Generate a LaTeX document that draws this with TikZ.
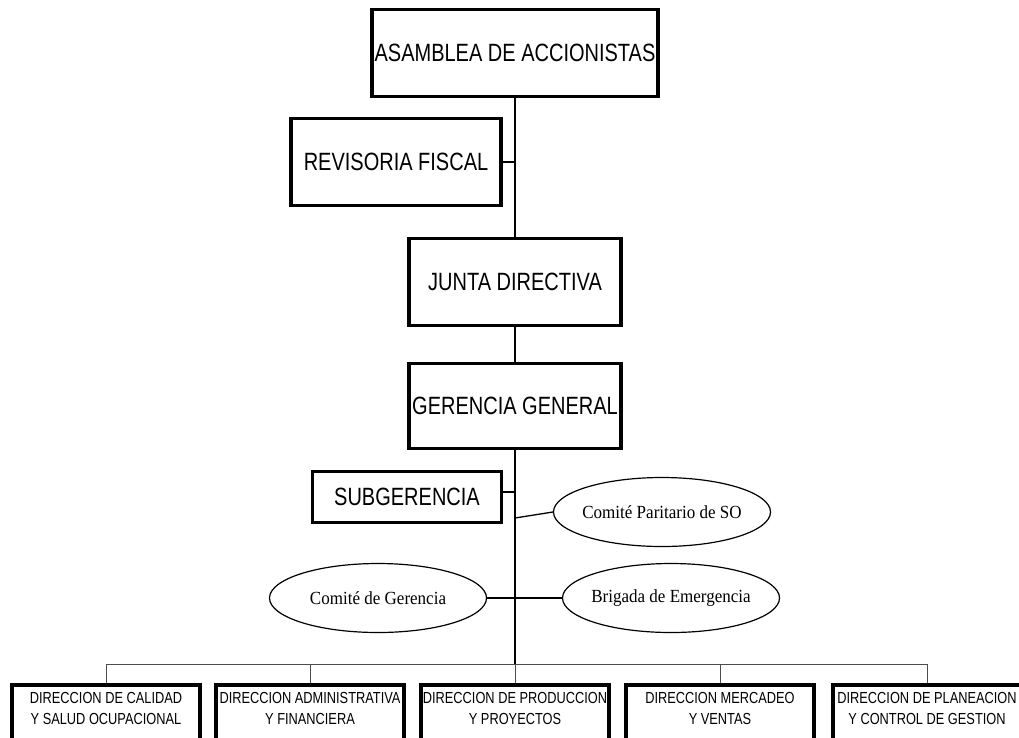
\documentclass[tikz,border=0pt]{standalone}
\usepackage{fontspec}
\setmainfont{Liberation Serif}
\newfontfamily\narrowsans[FakeStretch=0.8]{Liberation Sans}
\newfontfamily\narrowserif[FakeStretch=0.92]{Liberation Serif}
\newcommand{\ctext}[1]{\makebox[0pt]{#1}}
\usetikzlibrary{shapes.geometric}

\begin{document}
\begin{tikzpicture}[x=1pt,y=-1pt,
    orgbox/.style={draw,line width=3.5pt,inner sep=0pt,minimum width=#1,
      font=\narrowsans\fontsize{25}{28}\selectfont},
    dirbox/.style={draw,line width=3.5pt,inner sep=0pt,minimum width=188pt,
      minimum height=110pt,anchor=north},
    dirtext/.style={align=center,inner sep=0pt,
      font=\narrowsans\fontsize{16}{21}\selectfont},
    comite/.style={draw,ellipse,line width=1.2pt,inner sep=0pt,
      minimum width=217pt,minimum height=69pt,
      font=\narrowserif\fontsize{18.5}{20}\selectfont},
    link/.style={line width=1.3pt},
    bus/.style={line width=0.9pt,black!70}]
  \clip (0,0) rectangle (1019,737);

  \node[orgbox=286pt,minimum height=87pt] (asam) at (515,53) {ASAMBLEA DE ACCIONISTAS};
  \node[orgbox=210pt,minimum height=87pt] (rev) at (396,162) {REVISORIA FISCAL};
  \node[orgbox=212pt,minimum height=87pt] (junta) at (515,282) {JUNTA DIRECTIVA};
  \node[orgbox=212pt,minimum height=85pt] (ger) at (515,406) {GERENCIA GENERAL};
  \node[orgbox=189pt,minimum height=51pt] (sub) at (407,497) {SUBGERENCIA};

  \node[comite] (cpso) at (662,512) {\ctext{Comité Paritario de SO}};
  \node[comite] (cger) at (378,598) {\ctext{Comité de Gerencia}};
  \node[comite] (brig) at (671,598) {\ctext{Brigada de Emergencia}};

  % direcciones
  \node[dirbox] (dcal) at (106,683) {};
  \node[dirbox] (dadm) at (310,683) {};
  \node[dirbox] (dprod) at (515,683) {};
  \node[dirbox] (dmer) at (720,683) {};
  \node[dirbox] (dplan) at (927,683) {};
  \node[dirtext] (tcal) at (106,708) {DIRECCION DE CALIDAD\\Y SALUD OCUPACIONAL};
  \node[dirtext] (tadm) at (310,708) {DIRECCION ADMINISTRATIVA\\Y FINANCIERA};
  \node[dirtext] (tprod) at (515,708) {DIRECCION DE PRODUCCION\\Y PROYECTOS};
  \node[dirtext] (tmer) at (720,708) {DIRECCION MERCADEO\\Y VENTAS};
  \node[dirtext] (tplan) at (927,708) {DIRECCION DE PLANEACION\\Y CONTROL DE GESTION};

  \coordinate (bus) at (515,664);
  \coordinate (cpj) at (515,518);

  \draw[link] (asam.south) -- (junta.north);
  \draw[link] (junta.south) -- (ger.north);
  \draw[link] (ger.south) -- (bus);
  \draw[link] (rev.east) -- (rev.east -| asam.south);
  \draw[link] ([yshift=5pt]sub.east) -- ([yshift=5pt]sub.east -| ger.south);
  \draw[link] (cpj) -- (cpso.west);
  \draw[link] (cger.east) -- (brig.west);

  \draw[bus] (dcal.north) |- (bus) -| (dplan.north);
  \draw[bus] (dadm.north) -- (dadm.north |- bus);
  \draw[bus] (dmer.north) -- (dmer.north |- bus);
  \draw[bus] (bus) -- (dprod.north);
\end{tikzpicture}
\end{document}
